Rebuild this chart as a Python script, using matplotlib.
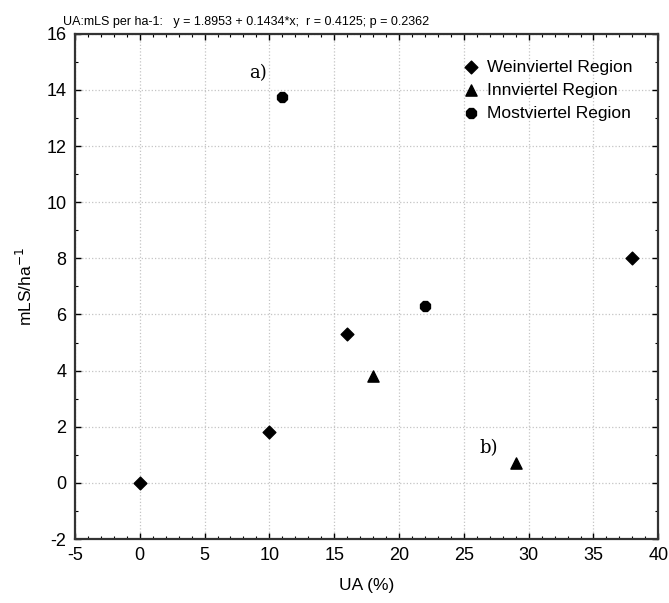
import numpy as np
import matplotlib
matplotlib.use("Agg")
import matplotlib.pyplot as plt
from matplotlib.ticker import MultipleLocator

plt.rcParams["font.family"] = ["Liberation Sans", "DejaVu Sans"]
plt.rcParams["axes.unicode_minus"] = False

# data
wein_x = [0, 10, 16, 38]
wein_y = [0.0, 1.8, 5.3, 8.0]
inn_x = [18, 29]
inn_y = [3.8, 0.7]
most_x = [11, 22]
most_y = [13.75, 6.3]

fig = plt.figure(figsize=(6.69, 6.03), dpi=100)
ax = fig.add_axes([0.112, 0.106, 0.872, 0.838])

ax.scatter(wein_x, wein_y, marker="D", s=42, color="black", label="Weinviertel Region", zorder=3)
ax.scatter(inn_x, inn_y, marker="^", s=65, color="black", label="Innviertel Region", zorder=3)
ax.scatter(most_x, most_y, marker="8", s=60, color="black", label="Mostviertel Region", zorder=3)

ax.text(9.1, 14.6, "a)", fontsize=13, family="DejaVu Serif", ha="center", va="center")
ax.text(26.9, 1.25, "b)", fontsize=13, family="DejaVu Serif", ha="center", va="center")

ax.set_xlim(-5, 40)
ax.set_ylim(-2, 16)
ax.xaxis.set_major_locator(MultipleLocator(5))
ax.xaxis.set_minor_locator(MultipleLocator(1))
ax.yaxis.set_major_locator(MultipleLocator(2))
ax.yaxis.set_minor_locator(MultipleLocator(1))
ax.tick_params(which="both", direction="in", top=True, right=True, labelsize=13)
ax.tick_params(which="major", length=4, width=1, pad=6)
ax.tick_params(which="minor", length=2.5, width=0.8)
for sp in ax.spines.values():
    sp.set_linewidth(1.6)
    sp.set_color("#333333")

ax.grid(True, which="major", color="#c4c4c4", linestyle=":", linewidth=0.9)
ax.set_axisbelow(True)

ax.set_xlabel("UA (%)", fontsize=12.5, labelpad=10)
ax.set_ylabel("mLS/ha$^{-1}$", fontsize=12.5, labelpad=8)

ax.text(-0.02, 1.012, "UA:mLS per ha-1:   y = 1.8953 + 0.1434*x;  r = 0.4125; p = 0.2362",
        transform=ax.transAxes, fontsize=9, ha="left", va="bottom")

ax.legend(loc="upper right", frameon=False, fontsize=12.5, handletextpad=0.3,
          borderaxespad=1.1, labelspacing=0.45, handlelength=1.2)

fig.savefig("out.png", dpi=100)
